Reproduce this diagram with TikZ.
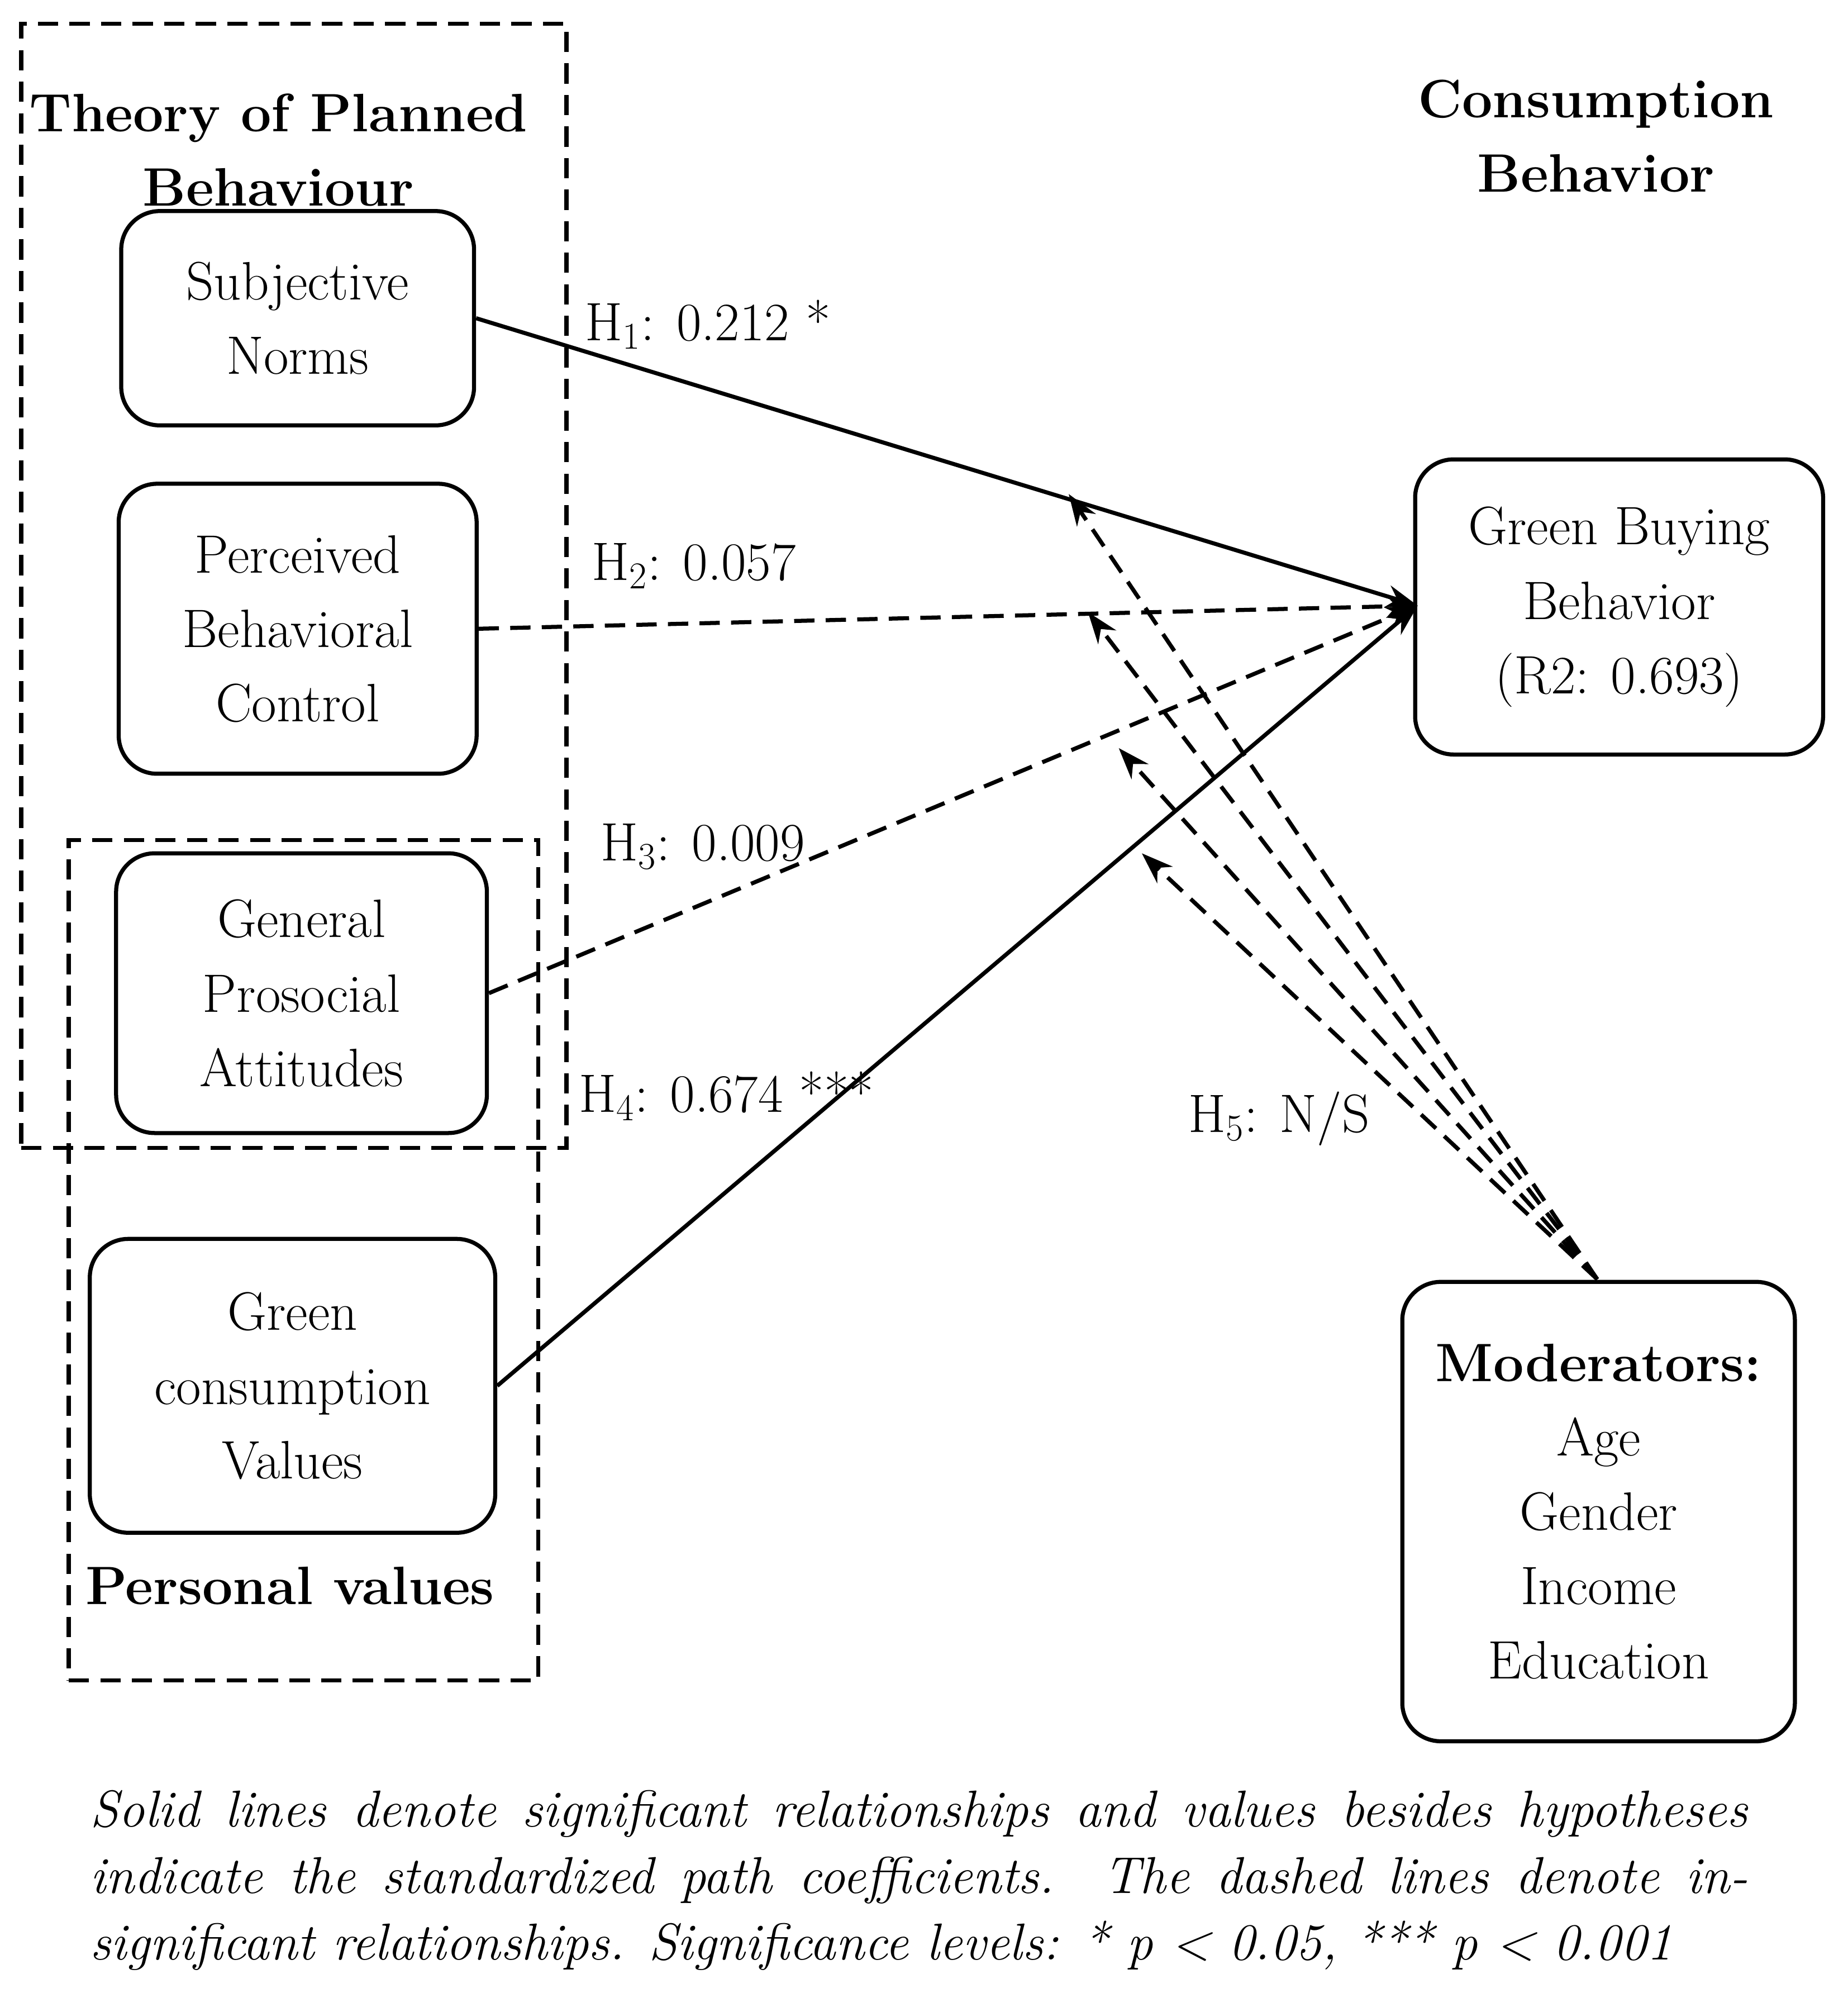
\documentclass[tikz,border=0pt]{standalone}
\usetikzlibrary{arrows.meta}
\begin{document}
\begin{tikzpicture}[x=0.02cm,y=-0.02cm,
  txt/.style={font=\fontsize{24}{33}\selectfont,align=center},
  bx/.style={draw,line width=1.8pt,rounded corners=0.6cm},
  grp/.style={draw,line width=1.8pt,dash pattern=on 9pt off 5pt},
  sl/.style={line width=1.8pt,-{Stealth[length=14pt,width=10pt]}},
  dl/.style={line width=1.8pt,dash pattern=on 9pt off 5pt,-{Stealth[length=14pt,width=10pt]}}]
\useasboundingbox (0,0) rectangle (1440,1568);
\node[grp,minimum width=425*0.02cm,minimum height=876*0.02cm,anchor=north west] (tpb) at (15,17) {};
\node[grp,minimum width=366*0.02cm,minimum height=655*0.02cm,anchor=north west] (pv) at (52,653) {};
\node[txt,font=\fontsize{24}{33}\selectfont\bfseries] (t1) at (217,117) {Theory of Planned\\Behaviour};
\node[txt,font=\fontsize{24}{33}\selectfont\bfseries] (t2) at (1244,106) {Consumption\\Behavior};
\node[txt,font=\fontsize{24}{33}\selectfont\bfseries] (t3) at (226,1236) {Personal values};
\node[bx,txt,minimum width=275*0.02cm,minimum height=167*0.02cm] (sn) at (232,248) {Subjective\\Norms};
\node[bx,txt,minimum width=279*0.02cm,minimum height=226*0.02cm] (pbc) at (232,490) {Perceived\\Behavioral\\Control};
\node[bx,txt,minimum width=289*0.02cm,minimum height=218*0.02cm] (gpa) at (235,774) {General\\Prosocial\\Attitudes};
\node[bx,txt,minimum width=316*0.02cm,minimum height=229*0.02cm] (gcv) at (228,1080) {Green\\consumption\\Values};
\node[bx,txt,minimum width=318*0.02cm,minimum height=230*0.02cm] (gbb) at (1262,473) {Green Buying\\Behavior\\(R2: 0.693)};
\node[bx,txt,minimum width=306*0.02cm,minimum height=358*0.02cm] (mod) at (1246,1178) {\textbf{Moderators:}\\Age\\Gender\\Income\\Education};
\coordinate (tip) at (1105,472);
\coordinate (m) at (1245,997);
\coordinate (a1) at (833,385);
\coordinate (a2) at (848,477);
\coordinate (a3) at (872,583);
\coordinate (a4) at (890,665);
\draw[sl] (sn.east) -- (tip);
\draw[dl] (pbc.east) -- (tip);
\draw[dl] (gpa.east) -- (tip);
\draw[sl] (gcv.east) -- (tip);
\foreach \a in {a1,a2,a3,a4} \draw[dl] (m) -- (\a);
\node[txt,anchor=west] (h1) at (450,253) {H\textsubscript{1}: 0.212 *};
\node[txt,anchor=west] (h2) at (455,441) {H\textsubscript{2}: 0.057};
\node[txt,anchor=west] (h3) at (462,660) {H\textsubscript{3}: 0.009};
\node[txt,anchor=west] (h4) at (445,854) {H\textsubscript{4}: 0.674 ***};
\node[txt,anchor=west] (h5) at (920,872) {H\textsubscript{5}: N/S};
\node[anchor=north west,text width=1292*0.02cm,align=justify,inner sep=0pt,
  font=\fontsize{23}{29.5}\selectfont\itshape] (cap) at (70,1395)
 {Solid lines denote significant relationships and values besides hypotheses indicate the standardized path coefficients. The dashed lines denote insignificant relationships. Significance levels: * \textit{p} {\textless} 0.05, *** \textit{p} {\textless} 0.001};
\end{tikzpicture}
\end{document}
